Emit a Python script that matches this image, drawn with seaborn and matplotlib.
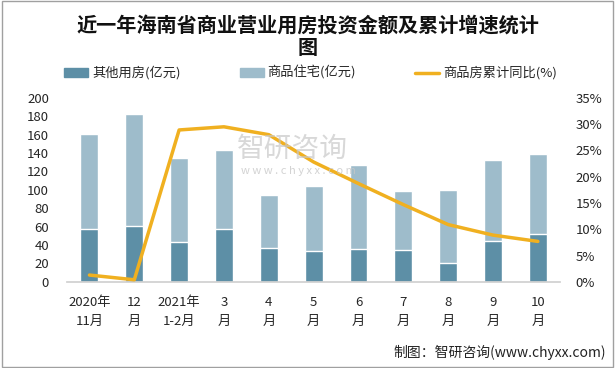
import matplotlib
matplotlib.use("Agg")
import matplotlib.pyplot as plt
import seaborn as sns
import pandas as pd
import numpy as np
from matplotlib.patches import Patch, Rectangle
from matplotlib.lines import Line2D

categories = ["2020年\n11月", "12\n月", "2021年\n1-2月", "3\n月", "4\n月", "5\n月",
              "6\n月", "7\n月", "8\n月", "9\n月", "10\n月"]
other_use = [57, 61, 43, 57, 37, 34, 36, 35, 21, 44, 52.5]
residential = [104, 122, 92, 86, 57, 70, 91, 64, 79, 88, 86]
growth_pct = [1.3, 0.4, 28.9, 29.5, 28.0, 22.8, 18.7, 14.7, 10.9, 8.9, 7.7]

df = pd.DataFrame({"cat": categories, "other": other_use, "res": residential, "growth": growth_pct})
df["total"] = df["other"] + df["res"]
df["idx"] = np.arange(len(df))

sns.set_theme(style="white")
plt.rcParams["font.family"] = ["Noto Sans CJK SC", "DejaVu Sans"]

DARK = "#5D8FA6"
LIGHT = "#9EBCCB"
GOLD = "#F0B020"

fig = plt.figure(figsize=(6.15, 3.68), dpi=100)
ax = fig.add_axes([0.109, 0.234, 0.802, 0.500])

sns.barplot(data=df, x="cat", y="total", color=LIGHT, width=0.4, ax=ax, saturation=1)
sns.barplot(data=df, x="cat", y="other", color=DARK, width=0.4, ax=ax, saturation=1)
ax.set_ylim(0, 200)
ax.set_xlim(-0.5, 10.5)
ax.set_yticks(range(0, 201, 20))
ax.set_xlabel("")
ax.set_ylabel("")
for s in ["top", "right", "left"]:
    ax.spines[s].set_visible(False)
ax.spines["bottom"].set_color("#D0D0D0")
ax.tick_params(axis="y", labelsize=9.5, length=0, pad=13)
ax.tick_params(axis="x", labelsize=9.5, length=0, pad=10)
for t in ax.get_xticklabels():
    t.set_linespacing(1.6)

ax2 = ax.twinx()
sns.lineplot(data=df, x="idx", y="growth", color=GOLD, linewidth=2.5, ax=ax2)
ax2.set_ylim(0, 35)
ax2.set_yticks(range(0, 36, 5))
ax2.set_yticklabels([f"{v}%" for v in range(0, 36, 5)])
ax2.set_xlim(-0.5, 10.5)
ax2.set_ylabel("")
ax2.set_xlabel("")
for s in ["top", "right", "left", "bottom"]:
    ax2.spines[s].set_visible(False)
ax2.tick_params(axis="y", labelsize=9.5, length=0, pad=11)

# watermark
fig.text(0.385, 0.595, "智研咨询", fontsize=20, color="#C8C8C8", alpha=0.7, va="center", ha="left")
fig.text(0.392, 0.535, "w w w . c h y x x . c o m", fontsize=8, color="#C8C8C8", alpha=0.8, va="center", ha="left")

fig.text(0.5, 1 - 25 / 368, "近一年海南省商业营业用房投资金额及累计增速统计", fontsize=14.5, fontweight="bold",
         ha="center", va="center", color="#111111")
fig.text(0.5, 1 - 48 / 368, "图", fontsize=14.5, fontweight="bold", ha="center", va="center", color="#111111")

handles = [Patch(color=DARK), Patch(color=LIGHT), Line2D([0], [0], color=GOLD, lw=2.5)]
labels = ["其他用房(亿元)", "商品住宅(亿元)", "商品房累计同比(%)"]
fig.legend(handles, labels, loc="center", bbox_to_anchor=(0.505, 1 - 73 / 368), ncol=3, frameon=False,
           fontsize=9.5, handlelength=1.8, handleheight=0.6, columnspacing=4.5, handletextpad=0.3)

fig.text(0.985, 1 - 352 / 368, "制图：智研咨询(www.chyxx.com)", fontsize=10, ha="right", va="center", color="#222222")

fig.patches.append(Rectangle((0.004, 0.004), 0.992, 0.992, transform=fig.transFigure, fill=False,
                             edgecolor="#A0A0A0", lw=1))

fig.savefig("out.png", dpi=100)
